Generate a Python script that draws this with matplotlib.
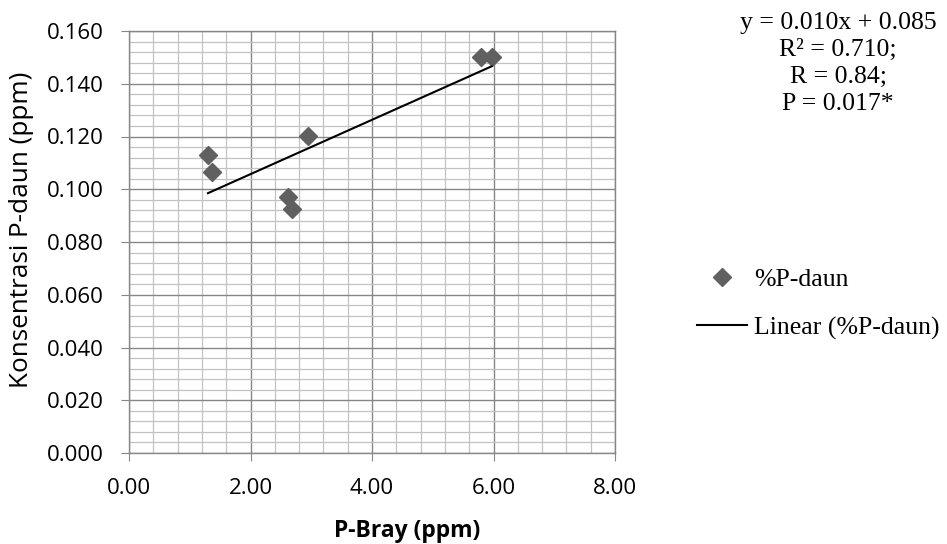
import numpy as np
import matplotlib
matplotlib.use("Agg")
import matplotlib.pyplot as plt
from matplotlib.ticker import MultipleLocator, FormatStrFormatter
from matplotlib.lines import Line2D

p_bray = [1.30, 1.37, 2.94, 2.61, 2.69, 5.79, 5.97]
p_daun = [0.113, 0.1065, 0.1202, 0.0972, 0.0925, 0.150, 0.150]
annot_lines = ["y = 0.010x + 0.085", "R² = 0.710;", "R = 0.84;", "P = 0.017*"]
series_label = "%P-daun"
trend_label = "Linear (%P-daun)"

W, H = 947, 544
fig = plt.figure(figsize=(W / 100, H / 100), dpi=100)
ax = fig.add_axes([129 / W, 1 - 453 / H, (615 - 129) / W, (453 - 31) / H])

ax.set_xlim(0, 8)
ax.set_ylim(0, 0.16)
ax.xaxis.set_major_locator(MultipleLocator(2))
ax.xaxis.set_minor_locator(MultipleLocator(0.4))
ax.yaxis.set_major_locator(MultipleLocator(0.02))
ax.yaxis.set_minor_locator(MultipleLocator(0.004))
ax.xaxis.set_major_formatter(FormatStrFormatter("%.2f"))
ax.yaxis.set_major_formatter(FormatStrFormatter("%.3f"))

ax.grid(which="major", color="#878787", linewidth=1.0)
ax.grid(which="minor", color="#c2c2c2", linewidth=0.9)
ax.set_axisbelow(True)
for s in ax.spines.values():
    s.set_color("#878787")
    s.set_linewidth(1.0)
ax.tick_params(which="major", direction="out", length=6, color="#878787", labelsize=16)
ax.tick_params(axis="y", pad=12)
ax.tick_params(axis="x", pad=12)
ax.tick_params(which="minor", length=0)
for lbl in ax.get_xticklabels() + ax.get_yticklabels():
    lbl.set_family("Open Sans")

mcol = "#606060"
ax.plot(p_bray, p_daun, linestyle="none", marker="D", markersize=9,
        color=mcol, zorder=3)

coef = np.polyfit(p_bray, p_daun, 1)
xs = np.array([min(p_bray), max(p_bray)])
ax.plot(xs, np.polyval(coef, xs), color="black", linewidth=1.5, zorder=4)

ax.set_xlabel("P-Bray (ppm)", fontsize=16.5, fontweight="bold", family="Open Sans")
ax.xaxis.set_label_coords((407 - 129) / 486, (453 - 531) / 422)
ax.xaxis.label.set_va("center")
ax.set_ylabel("Konsentrasi P-daun (ppm)", fontsize=18.8, family="Open Sans")
ax.yaxis.set_label_coords((22 - 129) / 486, (453 - 230) / 422)
ax.yaxis.label.set_va("center")
ax.yaxis.label.set_ha("center")

baselines = [28.5, 55.5, 82.5, 109.5]
for t, b in zip(annot_lines, baselines):
    fig.text(838 / W, 1 - b / H, t, ha="center", va="baseline",
             fontsize=18.5, family="Liberation Serif")

handles = [Line2D([], [], linestyle="none", marker="D", markersize=9, color=mcol),
           Line2D([], [], color="black", linewidth=1.5)]
leg = fig.legend(handles, [series_label, trend_label], loc="center left",
                 bbox_to_anchor=(697 / W, 1 - 304 / H), frameon=False,
                 prop={"family": "Liberation Serif", "size": 18.5},
                 handlelength=1.95, handletextpad=0.27, labelspacing=0.97,
                 borderaxespad=0, borderpad=0)

fig.savefig("out.png", dpi=100)
